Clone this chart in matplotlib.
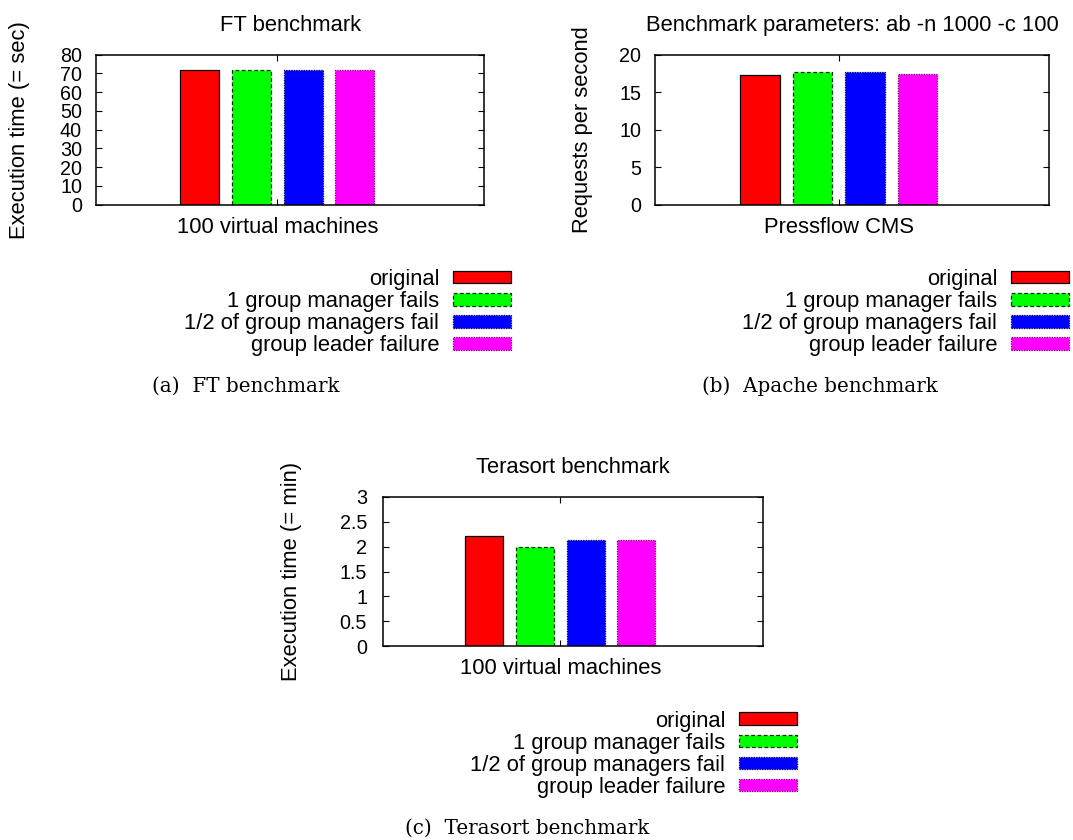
import matplotlib
matplotlib.use("Agg")
import matplotlib.pyplot as plt
from matplotlib.ticker import FuncFormatter

plt.rcParams["font.family"] = ["Liberation Sans", "DejaVu Sans"]

W, H = 1073, 840
FS = 15.8
TICK_FS = 14.2

# Series shared by all three panels
series_labels = ["original", "1 group manager fails",
                 "1/2 of group managers fail", "group leader failure"]
bar_colors = ["#ff0000", "#00ff00", "#0000ff", "#ff00ff"]
edge_colors = ["black", "#003000", "#000050", "#700070"]
edge_styles = ["-", (0, (3, 2)), (0, (1, 1)), (0, (1, 1))]

# (a) FT benchmark
ft_values = [71.7, 71.7, 71.7, 71.7]
# (b) Apache benchmark
apache_values = [17.3, 17.65, 17.65, 17.45]
# (c) Terasort benchmark
terasort_values = [2.22, 2.0, 2.13, 2.13]

bar_offsets = [-1.5, -0.5, 0.5, 1.5]


def px_axes(fig, left, top, right, bottom):
    # axes placed by pixel box
    return fig.add_axes([left / W, 1 - bottom / H, (right - left) / W, (bottom - top) / H])


def draw_panel(ax, values, title, ylabel, xlabel, ymax, ystep, ylab_x, ypad):
    bars = []
    for off, v, c, ec, ls, lab in zip(bar_offsets, values, bar_colors,
                                      edge_colors, edge_styles, series_labels):
        b = ax.bar(off, v, width=0.75, color=c, edgecolor=ec, linestyle=ls,
                   linewidth=0.9, label=lab)
        bars.append(b[0])
    ax.set_xlim(-3.5, 4.0)
    ax.set_ylim(0, ymax)
    ax.set_xticks([0])
    ax.set_xticklabels([xlabel])
    yt = [i * ystep for i in range(int(round(ymax / ystep)) + 1)]
    ax.set_yticks(yt)
    ax.yaxis.set_major_formatter(FuncFormatter(lambda v, p: "%g" % v))
    ax.tick_params(axis="both", direction="in", length=4.3, width=0.8,
                   top=True, right=True)
    ax.tick_params(axis="y", pad=ypad, labelsize=TICK_FS)
    ax.tick_params(axis="x", pad=9, labelsize=FS)
    for s in ax.spines.values():
        s.set_linewidth(1.1)
    ax.set_title(title, fontsize=FS, pad=17)
    ax.set_ylabel(ylabel, fontsize=FS)
    ax.yaxis.set_label_coords(ylab_x, 0.5)
    return bars


def add_legend(fig, handles, right, top):
    fig.legend(handles=handles, labels=series_labels, loc="upper right",
               bbox_to_anchor=(right / W, 1 - top / H), bbox_transform=fig.transFigure,
               frameon=False, markerfirst=False, fontsize=FS,
               handlelength=2.65, handleheight=0.5, handletextpad=0.62,
               labelspacing=0.05, borderpad=0, borderaxespad=0)


fig = plt.figure(figsize=(W / 100, H / 100), dpi=100)

ax_a = px_axes(fig, 96, 54.7, 484.3, 204.7)
h_a = draw_panel(ax_a, ft_values, "FT benchmark", "Execution time (= sec)",
                 "100 virtual machines", 80, 10, -0.17, 10)
add_legend(fig, h_a, 511, 269)

ax_b = px_axes(fig, 655, 54.7, 1049, 204.7)
h_b = draw_panel(ax_b, apache_values, "Benchmark parameters: ab -n 1000 -c 100",
                 "Requests per second", "Pressflow CMS", 20, 5, -0.157, 10)
add_legend(fig, h_b, 1069, 269)

ax_c = px_axes(fig, 383, 497, 763, 646)
h_c = draw_panel(ax_c, terasort_values, "Terasort benchmark", "Execution time (= min)",
                 "100 virtual machines", 3, 0.5, -0.213, 11.5)
add_legend(fig, h_c, 797, 710.5)

# sub-figure captions
cap_font = dict(fontsize=14.3, family=["DejaVu Serif"], ha="center", va="baseline")
fig.text(246 / W, 1 - 392 / H, "(a)  FT benchmark", **cap_font)
fig.text(820 / W, 1 - 392 / H, "(b)  Apache benchmark", **cap_font)
fig.text(527 / W, 1 - 834 / H, "(c)  Terasort benchmark", **cap_font)

fig.savefig("out.png", dpi=100)
